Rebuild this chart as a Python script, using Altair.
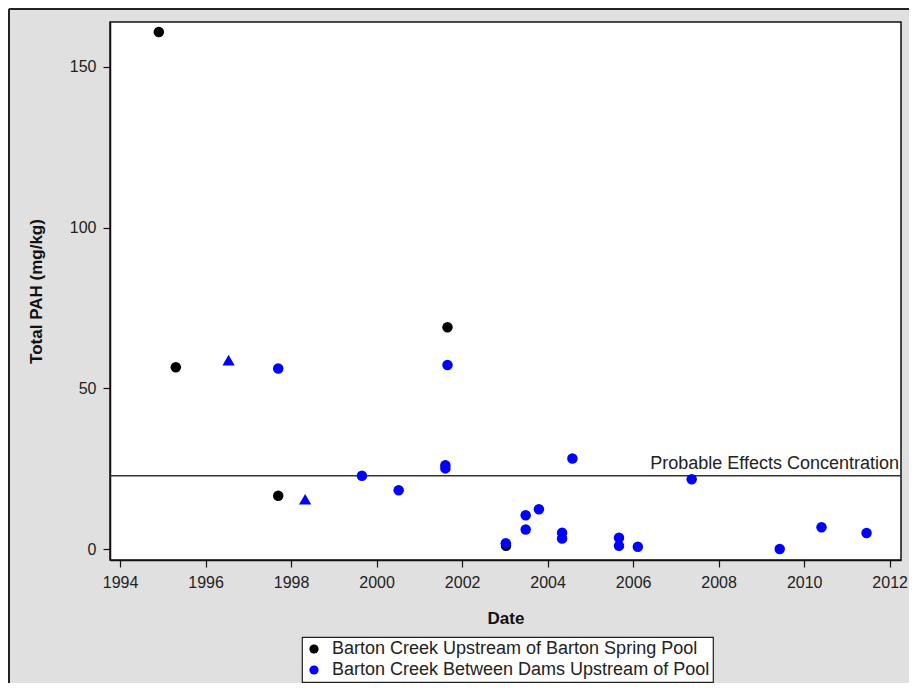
import altair as alt
import pandas as pd

SITE_A = "Barton Creek Upstream of Barton Spring Pool"
SITE_B = "Barton Creek Between Dams Upstream of Pool"

dates = [
    "1994-11-28", "1995-04-22", "1997-09-13", "2001-08-29", "2003-01-11",
    "1996-07-16", "1997-09-13", "1998-05-01", "1999-08-29", "2000-07-08",
    "2001-08-29", "2001-08-11", "2001-08-11", "2003-01-09", "2003-06-28",
    "2003-06-28", "2003-10-19", "2004-05-04", "2004-05-04", "2004-07-31",
    "2005-09-02", "2005-09-02", "2006-02-10", "2007-05-16", "2009-06-06",
    "2010-05-29", "2011-06-18",
]
pah = [
    160.9, 56.6, 16.6, 69.0, 1.0,
    58.8, 56.2, 15.5, 22.8, 18.3,
    57.3, 26.1, 25.1, 1.8, 10.5,
    6.1, 12.4, 5.1, 3.3, 28.2,
    3.5, 1.0, 0.7, 21.7, 0.0,
    6.8, 5.0,
]
site = [SITE_A] * 5 + [SITE_B] * 22
shape = (["circle"] * 5 + ["triangle-up", "circle", "triangle-up"] + ["circle"] * 19)

pec_value = [22.8]
pec_label = ["Probable Effects Concentration"]
year_ticks = [f"{y}-01-01" for y in range(1994, 2013, 2)]
y_ticks = [0, 50, 100, 150]

df = pd.DataFrame({"date": dates, "pah": pah, "site": site, "shape": shape})
pec_df = pd.DataFrame({"pec": pec_value, "label": pec_label})

W, H = 791, 538
FONT = "Liberation Sans"

x_scale = alt.Scale(domain=["1993-10-07", "2012-04-07"])
y_scale = alt.Scale(domain=[-3.4, 164], nice=False, zero=False)

x_enc = alt.X("date:T", scale=x_scale,
              axis=alt.Axis(values=year_ticks, format="%Y", title="Date",
                            grid=False, tickSize=7, labelPadding=7,
                            titlePadding=20, titleFontSize=17))
y_enc = alt.Y("pah:Q", scale=y_scale,
              axis=alt.Axis(values=y_ticks, title="Total PAH (mg/kg)", grid=False,
                            tickSize=7, labelPadding=7, titlePadding=24,
                            titleFontSize=17))
color_enc = alt.Color("site:N",
                      scale=alt.Scale(domain=[SITE_A, SITE_B], range=["#000000", "#0000ff"]),
                      legend=alt.Legend(title=None, orient="none", legendX=192, legendY=615,
                                        symbolType="circle", labelLimit=0))

base = alt.Chart(df)
circles = base.transform_filter(alt.datum.shape == "circle").mark_point(
    filled=True, opacity=1, strokeWidth=0, shape="circle", size=110
).encode(x=x_enc, y=y_enc, color=color_enc)
triangles = base.transform_filter(alt.datum.shape == "triangle-up").mark_point(
    filled=True, opacity=1, strokeWidth=0, shape="triangle-up", size=150
).encode(x=x_enc, y=y_enc, color=color_enc)

rule = alt.Chart(pec_df).mark_rule(color="#333333", strokeWidth=1.5).encode(
    y=alt.Y("pec:Q", scale=y_scale)
)
label = alt.Chart(pec_df).mark_text(align="right", baseline="bottom", dy=-3,
                                    fontSize=18, font=FONT, color="#222222").encode(
    y=alt.Y("pec:Q", scale=y_scale),
    x=alt.value(W - 2),
    text="label:N",
)

border_top = alt.Chart(pec_df).mark_rule(color="#222222", strokeWidth=2).encode(
    x=alt.value(-101), x2=alt.value(W + 8), y=alt.value(-13)
)
border_left = alt.Chart(pec_df).mark_rule(color="#222222", strokeWidth=2).encode(
    x=alt.value(-101), y=alt.value(-13), y2=alt.value(H + 123)
)

chart = alt.layer(rule, label, circles, triangles, border_top, border_left).properties(
    width=W, height=H,
    autosize=alt.AutoSizeParams(type="none"),
    padding={"left": 102, "top": 14, "right": 8, "bottom": 123},
    background="#e0e0e0",
).configure_view(
    fill="white", stroke="#111111", strokeWidth=1.5
).configure_axis(
    labelFont=FONT, labelFontSize=16, labelColor="#222222",
    titleFont=FONT, titleFontWeight="bold", titleColor="#111111",
    domainColor="#111111", domainWidth=1.5, tickColor="#111111", tickWidth=1.2,
).configure_legend(
    labelFont=FONT, labelFontSize=18, labelColor="#222222",
    fillColor="white", strokeColor="#222222", strokeWidth=1.2,
    padding=3, rowPadding=3, symbolSize=85, labelOffset=9, symbolStrokeWidth=0,
)

chart.save("out.html", embed_options={"renderer": "svg", "actions": False})
